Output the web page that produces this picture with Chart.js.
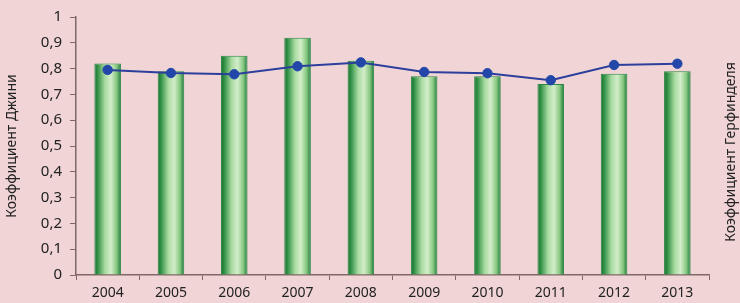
<!DOCTYPE html>
<html>
<head>
<meta charset="utf-8">
<script src="https://cdn.jsdelivr.net/npm/chart.js@4"></script>
<style>
  html, body { margin: 0; padding: 0; background: #f1d5d6; }
  #wrap { width: 740px; height: 303px; }
</style>
</head>
<body>
<div id="wrap"><canvas id="gini-chart" width="740" height="303"></canvas></div>
<script>
/** Years on the x axis */
const years = ['2004', '2005', '2006', '2007', '2008', '2009', '2010', '2011', '2012', '2013'];
/** Gini coefficient (bars, left axis) */
const giniValues = [0.82, 0.79, 0.85, 0.92, 0.83, 0.77, 0.77, 0.74, 0.78, 0.79];
/** Herfindahl coefficient (line, right axis) */
const herfindahlValues = [0.795, 0.783, 0.778, 0.809, 0.824, 0.787, 0.782, 0.755, 0.814, 0.819];
/** Left axis tick values */
const yTicks = [0, 0.1, 0.2, 0.3, 0.4, 0.5, 0.6, 0.7, 0.8, 0.9, 1];
/** Axis titles */
const leftTitle = 'Коэффициент Джини';
const rightTitle = 'Коэффициент Герфинделя';

const axisColor = '#7f6868';
const textColor = '#222';
const barShare = 0.42;

Chart.defaults.font.family = "'Noto Sans', sans-serif";
Chart.defaults.font.size = 14;
Chart.defaults.color = textColor;

// comma decimal like the original
const formatTick = (value) => Number(value.toFixed(1)).toString().replace('.', ',');

/** Horizontal green "cylinder" gradient for each bar */
const barGradient = (context) => {
  const chart = context.chart;
  const xScale = chart.scales && chart.scales.x;
  if (!xScale || !chart.chartArea || context.dataIndex === undefined) {
    return '#6cbf6c';
  }
  const center = xScale.getPixelForValue(context.dataIndex);
  const half = xScale.width / years.length * barShare / 2;
  const g = chart.ctx.createLinearGradient(center - half, 0, center + half, 0);
  g.addColorStop(0, '#17702f');
  g.addColorStop(0.12, '#2f8f45');
  g.addColorStop(0.4, '#a9dba0');
  g.addColorStop(0.62, '#d3edca');
  g.addColorStop(0.84, '#86c880');
  g.addColorStop(1, '#19753a');
  return g;
};

/** Right title reads bottom-to-top like the left one, so draw it here */
const rightTitlePlugin = {
  id: 'rightTitle',
  afterDraw: (chart) => {
    const scale = chart.scales.y1;
    const ctx = chart.ctx;
    ctx.save();
    ctx.translate(scale.right - 9, (scale.top + scale.bottom) / 2 + 6);
    ctx.rotate(-Math.PI / 2);
    ctx.font = "14px 'Noto Sans', sans-serif";
    ctx.fillStyle = textColor;
    ctx.textAlign = 'center';
    ctx.textBaseline = 'middle';
    ctx.fillText(rightTitle, 0, 0);
    ctx.restore();
  }
};

new Chart(document.getElementById('gini-chart'), {
  data: {
    labels: years,
    datasets: [{
      type: 'line',
      data: herfindahlValues,
      yAxisID: 'y1',
      order: 1,
      borderColor: '#2d3f9c',
      borderWidth: 2,
      pointRadius: 4.7,
      pointBackgroundColor: '#2247a8',
      pointBorderColor: '#2247a8',
      pointBorderWidth: 1,
      tension: 0,
    }, {
      type: 'bar',
      data: giniValues,
      yAxisID: 'y',
      order: 2,
      backgroundColor: barGradient,
      borderColor: '#2a8a44',
      borderWidth: 1,
      categoryPercentage: 1,
      barPercentage: barShare,
    }]
  },
  options: {
    responsive: false,
    animation: false,
    layout: {
      autoPadding: false,
      padding: {top: 5},
    },
    plugins: {
      legend: {display: false},
      tooltip: {enabled: false},
    },
    scales: {
      x: {
        offset: true,
        afterFit: (scale) => { scale.height = 28; },
        border: {color: axisColor, width: 1.5},
        grid: {
          offset: true,
          drawOnChartArea: false,
          drawTicks: true,
          tickLength: 5,
          color: axisColor,
        },
        ticks: {padding: 5},
      },
      y: {
        position: 'left',
        min: 0,
        max: 1,
        afterBuildTicks: (scale) => {
          scale.ticks = yTicks.map(value => ({value}));
        },
        afterFit: (scale) => { scale.width = 76; },
        border: {color: axisColor, width: 1.5},
        grid: {
          drawOnChartArea: false,
          drawTicks: true,
          tickLength: 6,
          color: axisColor,
        },
        ticks: {
          padding: 8,
          font: {size: 15},
          callback: (value) => formatTick(value),
        },
        title: {
          display: true,
          text: leftTitle,
          padding: {top: 4, bottom: 4},
        },
      },
      y1: {
        position: 'right',
        min: 0,
        max: 1,
        afterFit: (scale) => { scale.width = 31; },
        border: {display: false},
        grid: {display: false, drawTicks: false},
        ticks: {display: false},
      },
    },
  },
  plugins: [rightTitlePlugin],
});
</script>
</body>
</html>
